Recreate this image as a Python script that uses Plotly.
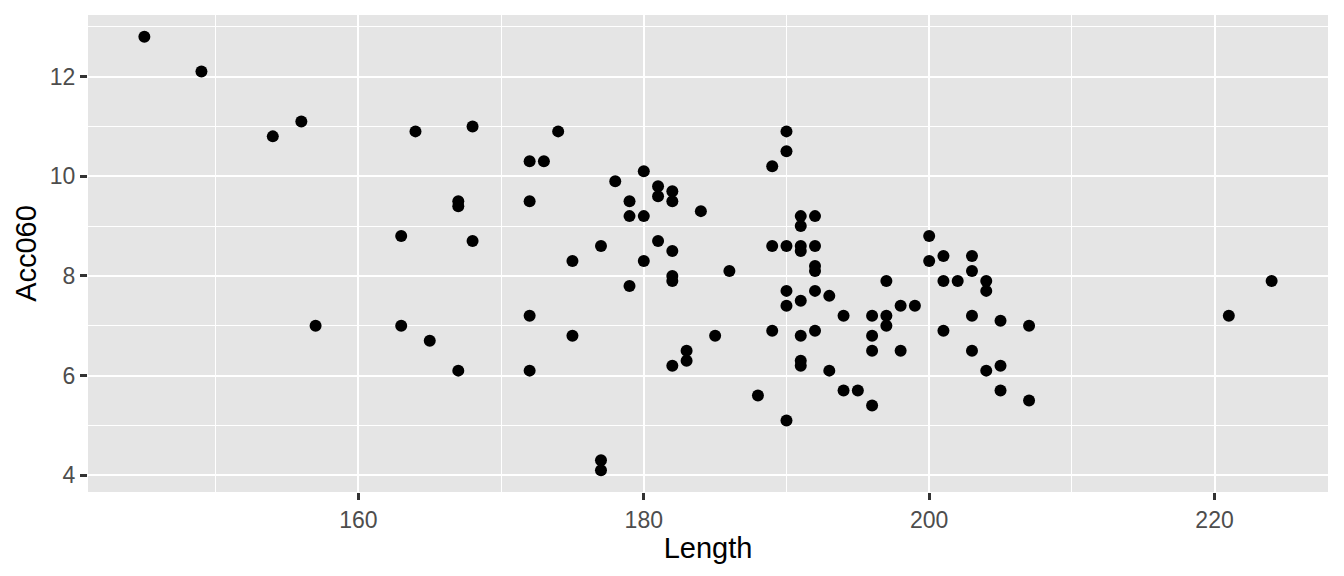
import plotly.graph_objects as go

# ── Cars: Length vs Acc060 ──
length = [
    145, 149, 154, 156, 157,
    164, 168, 174, 172, 173, 167, 167, 172, 163, 168, 177, 175,
    163, 165, 167, 172, 175, 172, 177, 177,
    178, 180, 179, 179, 180, 181, 181, 182, 182, 184, 181, 182, 180, 182, 182, 186, 179,
    189, 190, 190, 191, 191, 192, 189, 190, 191, 191, 192, 192, 192, 190, 191, 192, 193,
    182, 183, 183, 185, 188, 190, 189, 190, 191, 192, 191, 191, 193,
    200, 200, 201, 203, 203, 201, 202, 204, 204, 197, 194, 196, 197, 197, 198, 199,
    196, 196, 198, 201, 203, 203, 205, 207, 205, 204, 194, 195, 196, 205, 207,
    221, 224,
]
acc060 = [
    12.8, 12.1, 10.8, 11.1, 7.0,
    10.9, 11.0, 10.9, 10.3, 10.3, 9.5, 9.4, 9.5, 8.8, 8.7, 8.6, 8.3,
    7.0, 6.7, 6.1, 7.2, 6.8, 6.1, 4.3, 4.1,
    9.9, 10.1, 9.5, 9.2, 9.2, 9.8, 9.6, 9.7, 9.5, 9.3, 8.7, 8.5, 8.3, 8.0, 7.9, 8.1, 7.8,
    10.2, 10.9, 10.5, 9.2, 9.0, 9.2, 8.6, 8.6, 8.6, 8.5, 8.6, 8.2, 8.1, 7.7, 7.5, 7.7, 7.6,
    6.2, 6.5, 6.3, 6.8, 5.6, 5.1, 6.9, 7.4, 6.8, 6.9, 6.3, 6.2, 6.1,
    8.8, 8.3, 8.4, 8.4, 8.1, 7.9, 7.9, 7.9, 7.7, 7.9, 7.2, 7.2, 7.2, 7.0, 7.4, 7.4,
    6.8, 6.5, 6.5, 6.9, 7.2, 6.5, 7.1, 7.0, 6.2, 6.1, 5.7, 5.7, 5.4, 5.7, 5.5,
    7.2, 7.9,
]

x_ticks = [160, 180, 200, 220]
y_ticks = [4, 6, 8, 10, 12]

PANEL = "#E5E5E5"
GRID = "white"
TICK_TEXT = "#4D4D4D"

fig = go.Figure()
fig.add_trace(go.Scatter(
    x=length, y=acc060, mode="markers",
    marker=dict(color="black", size=12),
    showlegend=False,
))

pad_x = (max(length) - min(length)) * 0.05
pad_y = (max(acc060) - min(acc060)) * 0.05

axis_common = dict(
    showgrid=True, gridcolor=GRID, gridwidth=2.2,
    zeroline=False, showline=False,
    ticks="outside", ticklen=7, tickwidth=2.5, tickcolor="#333333",
    tickfont=dict(size=23, color=TICK_TEXT),
)

fig.update_xaxes(
    range=[min(length) - pad_x, max(length) + pad_x],
    tickvals=x_ticks,
    minor=dict(tickvals=[150, 170, 190, 210], showgrid=True, gridcolor=GRID, gridwidth=1.1, ticks=""),
    title=dict(text="Length", font=dict(size=29, color="black"), standoff=6),
    **axis_common,
)
fig.update_yaxes(
    range=[min(acc060) - pad_y, max(acc060) + pad_y],
    tickvals=y_ticks,
    minor=dict(tickvals=[5, 7, 9, 11, 13], showgrid=True, gridcolor=GRID, gridwidth=1.1, ticks=""),
    title=dict(text="Acc060", font=dict(size=29, color="black"), standoff=4),
    **axis_common,
)

# page body adds an 8px offset, so the margins are trimmed to match the panel box
fig.update_layout(
    width=1344, height=576,
    plot_bgcolor=PANEL, paper_bgcolor="white",
    font=dict(family="Liberation Sans, Arial, sans-serif"),
    margin=dict(l=80, r=24, t=7, b=92, autoexpand=False),
)

fig.write_html("out.html")
